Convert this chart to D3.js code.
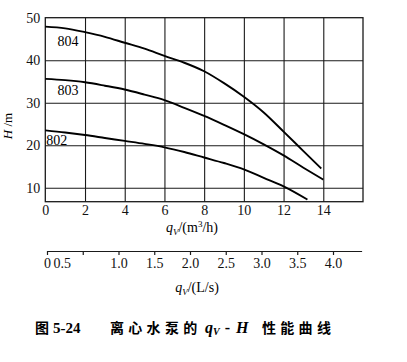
<!DOCTYPE html>
<html>
<head>
<meta charset="utf-8">
<script src="https://cdn.jsdelivr.net/npm/d3@7"></script>
<style>
  body { margin: 0; background: #fff; }
</style>
</head>
<body>
<div id="chart"></div>
<script>
// flow rate q_V in m3/h, head H in m
const flow804 = [0, 1, 2, 3, 4, 5, 6, 7, 8, 9, 10, 11, 12, 13, 13.9];
const head804 = [47.9, 47.5, 46.6, 45.5, 44.1, 42.7, 41.0, 39.4, 37.4, 34.6, 31.4, 27.7, 23.2, 18.6, 14.5];

const flow803 = [0, 1, 2, 3, 4, 5, 6, 7, 8, 9, 10, 11, 12, 13, 14];
const head803 = [35.6, 35.3, 34.8, 34.0, 33.1, 31.9, 30.6, 28.8, 26.9, 24.8, 22.6, 20.2, 17.6, 14.7, 11.9];

const flow802 = [0, 1, 2, 3, 4, 5, 6, 7, 8, 9, 10, 11, 12, 13.2];
const head802 = [23.5, 23.0, 22.4, 21.7, 21.0, 20.3, 19.5, 18.4, 17.1, 15.8, 14.3, 12.3, 10.3, 7.2];

const curveNames = ['804', '803', '802'];
const xTicks = [0, 2, 4, 6, 8, 10, 12, 14];
const yTicks = [10, 20, 30, 40, 50];
const lsTicks = [0, 0.5, 1.0, 1.5, 2.0, 2.5, 3.0, 3.5, 4.0];

const width = 407, height = 362;
const serif = '"Liberation Serif", "Times New Roman", "DejaVu Serif", serif';
const cjk = '"Noto Sans CJK SC", sans-serif';

const svg = d3.select('#chart').append('svg')
  .attr('width', width)
  .attr('height', height)
  .style('font-family', serif);

const x = d3.scaleLinear().domain([0, 16]).range([45.3, 363]);
const y = d3.scaleLinear().domain([6.7, 50]).range([201.7, 17.7]);

const fixText = g => g.selectAll('text')
  .style('font-family', serif).attr('font-size', 14).attr('fill', '#111');

// grid
svg.append('g')
  .attr('transform', `translate(0,${y(6.7)})`)
  .call(d3.axisBottom(x).tickValues([2, 4, 6, 8, 10, 12, 14]).tickSize(-(y(6.7) - y(50))).tickFormat(''))
  .call(g => g.select('.domain').remove())
  .call(g => g.selectAll('line').attr('stroke', '#1a1a1a').attr('stroke-width', 1.1));

svg.append('g')
  .attr('transform', `translate(${x(0)},0)`)
  .call(d3.axisLeft(y).tickValues([10, 20, 30, 40]).tickSize(-(x(16) - x(0))).tickFormat(''))
  .call(g => g.select('.domain').remove())
  .call(g => g.selectAll('line').attr('stroke', '#1a1a1a').attr('stroke-width', 1.1));

svg.append('rect')
  .attr('x', x(0)).attr('y', y(50))
  .attr('width', x(16) - x(0)).attr('height', y(6.7) - y(50))
  .attr('fill', 'none').attr('stroke', '#1a1a1a').attr('stroke-width', 1.3);

// tick labels
svg.append('g')
  .attr('transform', `translate(0,${y(6.7)})`)
  .call(d3.axisBottom(x).tickValues(xTicks).tickSize(0).tickPadding(3))
  .call(g => g.select('.domain').remove())
  .call(fixText);

svg.append('g')
  .attr('transform', `translate(${x(0)},0)`)
  .call(d3.axisLeft(y).tickValues(yTicks).tickSize(0).tickPadding(5))
  .call(g => g.select('.domain').remove())
  .call(fixText);

// curves
const series = [
  { name: curveNames[0], flow: flow804, head: head804, lx: 0.62, ly: 43.4 },
  { name: curveNames[1], flow: flow803, head: head803, lx: 0.62, ly: 31.8 },
  { name: curveNames[2], flow: flow802, head: head802, lx: 0.05, ly: 20.0 }
];

const line = d3.line()
  .x(d => x(d[0]))
  .y(d => y(d[1]))
  .curve(d3.curveMonotoneX);

series.forEach(s => {
  svg.append('path')
    .datum(s.flow.map((f, i) => [f, s.head[i]]))
    .attr('d', line)
    .attr('fill', 'none')
    .attr('stroke', '#000')
    .attr('stroke-width', 1.9);

  svg.append('text')
    .attr('x', x(s.lx)).attr('y', y(s.ly))
    .attr('font-size', 14)
    .style('font-family', serif)
    .text(s.name);
});

// axis titles
const xTitle = svg.append('text')
  .attr('x', 192).attr('y', 232)
  .attr('text-anchor', 'middle')
  .attr('font-size', 14)
  .style('font-family', serif);
xTitle.append('tspan').attr('font-style', 'italic').text('q');
xTitle.append('tspan').attr('font-style', 'italic').attr('font-size', 9).attr('dy', 3).text('V');
xTitle.append('tspan').attr('dy', -3).text('/(m');
xTitle.append('tspan').attr('font-size', 9).attr('dy', -5).text('3');
xTitle.append('tspan').attr('dy', 5).text('/h)');

const yTitle = svg.append('text')
  .attr('transform', 'translate(12,126) rotate(-90)')
  .attr('text-anchor', 'middle')
  .attr('font-size', 13)
  .style('font-family', serif);
yTitle.append('tspan').attr('font-style', 'italic').text('H');
yTitle.append('tspan').text(' /m');

// secondary axis in L/s
const x2 = d3.scaleLinear().domain([0, 4.4]).range([47, 361.6]);

svg.append('g')
  .attr('transform', 'translate(0,251)')
  .call(d3.axisBottom(x2).tickValues(lsTicks).tickSize(4).tickSizeOuter(0).tickPadding(3)
    .tickFormat(d => d === 0 ? '0' : d.toFixed(1)))
  .call(g => g.select('.domain').attr('stroke', '#1a1a1a').attr('stroke-width', 1.2))
  .call(g => g.selectAll('line').attr('stroke', '#1a1a1a').attr('stroke-width', 1.2))
  .call(fixText)
  .call(g => g.selectAll('.tick').filter(d => d === 0.5).select('text').attr('dx', -21));

const x2Title = svg.append('text')
  .attr('x', 197).attr('y', 292)
  .attr('text-anchor', 'middle')
  .attr('font-size', 14)
  .style('font-family', serif);
x2Title.append('tspan').attr('font-style', 'italic').text('q');
x2Title.append('tspan').attr('font-style', 'italic').attr('font-size', 9).attr('dy', 3).text('V');
x2Title.append('tspan').attr('dy', -3).text('/(L/s)');

// caption
const cap = svg.append('g').attr('font-size', 14);
cap.append('text').style('font-family', cjk).attr('x', 35).attr('y', 333).attr('font-weight', 'bold').text('图');
cap.append('text').style('font-family', serif).attr('x', 53).attr('y', 333).attr('font-weight', 'bold').attr('font-size', 15).text('5-24');
cap.append('text').style('font-family', cjk).attr('x', 110).attr('y', 333).attr('font-weight', 'bold')
  .attr('letter-spacing', 4.3).text('离心水泵的');
const capQ = cap.append('text').style('font-family', serif).attr('x', 205).attr('y', 333).attr('font-size', 16).attr('font-weight', 'bold');
capQ.append('tspan').attr('font-style', 'italic').text('q');
capQ.append('tspan').attr('font-style', 'italic').attr('font-size', 10).attr('dy', 2).text('V');
capQ.append('tspan').attr('dy', -2).attr('dx', 5).text('-');
capQ.append('tspan').attr('dx', 6).attr('font-style', 'italic').text('H');
cap.append('text').style('font-family', cjk).attr('x', 262).attr('y', 333).attr('font-weight', 'bold')
  .attr('letter-spacing', 4.3).text('性能曲线');
</script>
</body>
</html>
